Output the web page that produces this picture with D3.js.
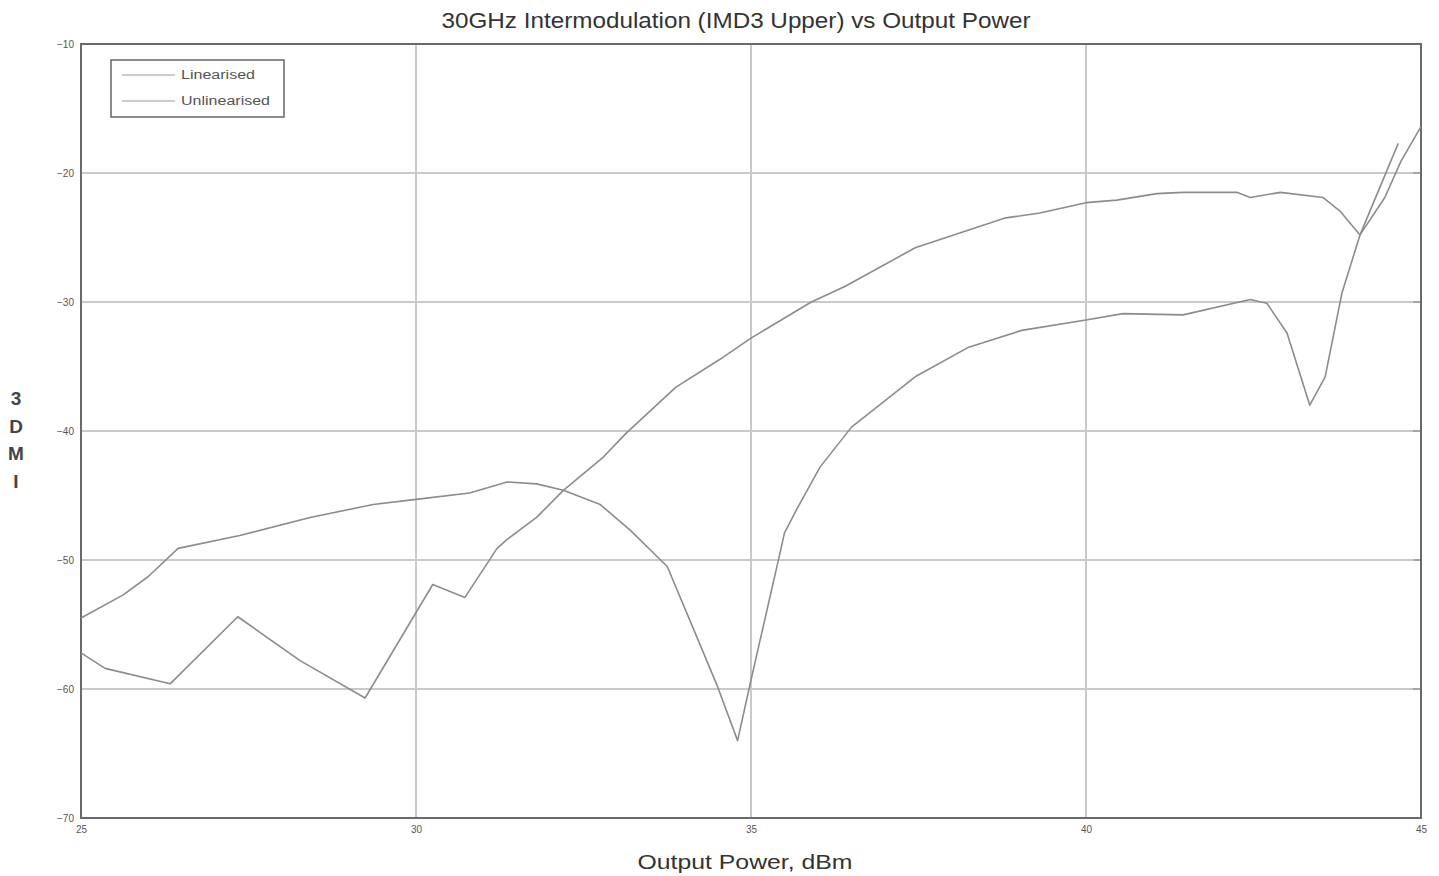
<!DOCTYPE html>
<html>
<head>
<meta charset="utf-8">
<script src="https://cdn.jsdelivr.net/npm/d3@7"></script>
<style>
  body { margin: 0; background: #fff; }
  svg { font-family: "Liberation Sans", Arial, sans-serif; }
</style>
</head>
<body>
<svg id="chart" width="1439" height="876"></svg>
<script>
// Data: output power (dBm) vs IMD3 (dBc)
const linPower = [25, 25.63, 26.0, 26.45, 27.37, 28.42, 29.36, 30.0, 30.8, 31.36, 31.8, 32.2, 32.75, 33.2, 33.75, 34.13, 34.5, 34.8, 35.0, 35.4, 35.5, 35.7, 36.03, 36.5, 37.45, 38.25, 39.04, 40.0, 40.55, 41.45, 42.45, 42.7, 43.0, 43.34, 43.57, 43.82, 44.09, 44.66];
const linImd = [-54.5, -52.7, -51.3, -49.1, -48.1, -46.7, -45.7, -45.3, -44.8, -43.95, -44.1, -44.6, -45.7, -47.7, -50.5, -55.2, -59.8, -64.0, -59.3, -50.2, -47.9, -45.9, -42.8, -39.7, -35.8, -33.5, -32.2, -31.4, -30.9, -31.0, -29.8, -30.1, -32.4, -38.0, -35.8, -29.3, -24.8, -17.7];

const unlinPower = [25, 25.36, 26.33, 27.34, 28.27, 29.24, 30.25, 30.73, 31.21, 31.36, 31.8, 32.2, 32.8, 33.13, 33.88, 34.52, 35.0, 35.9, 36.4, 37.45, 38.78, 39.31, 40.0, 40.46, 41.06, 41.45, 42.25, 42.45, 42.9, 43.54, 43.8, 44.09, 44.46, 44.7, 45.0];
const unlinImd = [-57.2, -58.4, -59.6, -54.4, -57.8, -60.7, -51.9, -52.9, -49.1, -48.4, -46.7, -44.6, -42.0, -40.2, -36.6, -34.5, -32.8, -30.0, -28.8, -25.8, -23.5, -23.1, -22.3, -22.1, -21.6, -21.5, -21.5, -21.9, -21.5, -21.9, -23.0, -24.8, -21.9, -19.1, -16.4];

const xTicks = [25, 30, 35, 40, 45];
const yTicks = [-10, -20, -30, -40, -50, -60, -70];
const seriesNames = ["Linearised", "Unlinearised"];

const svg = d3.select("#chart");
const margin = { top: 44, right: 18, bottom: 58, left: 81 };
const width = 1439 - margin.left - margin.right;
const height = 876 - margin.top - margin.bottom;

const x = d3.scaleLinear().domain([25, 45]).range([0, width]);
const y = d3.scaleLinear().domain([-70, -10]).range([height, 0]);

const g = svg.append("g").attr("transform", `translate(${margin.left},${margin.top})`);

// grid
g.append("g").selectAll("line")
  .data(xTicks.slice(1, -1)).enter().append("line")
  .attr("x1", d => x(d)).attr("x2", d => x(d))
  .attr("y1", 0).attr("y2", height)
  .attr("stroke", "#c9c9c9").attr("stroke-width", 2);
g.append("g").selectAll("line")
  .data(yTicks.slice(1, -1)).enter().append("line")
  .attr("x1", 0).attr("x2", width)
  .attr("y1", d => y(d)).attr("y2", d => y(d))
  .attr("stroke", "#c9c9c9").attr("stroke-width", 2);

// axes
const xAxis = d3.axisBottom(x).tickValues(xTicks).tickSize(0).tickPadding(8);
const yAxis = d3.axisLeft(y).tickValues(yTicks).tickSize(0).tickPadding(7);
g.append("g").attr("transform", `translate(0,${height})`).call(xAxis)
  .call(s => s.select(".domain").remove())
  .selectAll("text").attr("font-size", 10).attr("fill", "#555");
g.append("g").call(yAxis)
  .call(s => s.select(".domain").remove())
  .selectAll("text").attr("font-size", 10).attr("fill", "#555");

// small ticks on right edge
g.append("g").selectAll("line")
  .data(yTicks).enter().append("line")
  .attr("x1", width - 8).attr("x2", width)
  .attr("y1", d => y(d)).attr("y2", d => y(d))
  .attr("stroke", "#999").attr("stroke-width", 1.5);

// frame
g.append("rect").attr("width", width).attr("height", height)
  .attr("fill", "none").attr("stroke", "#6a6a6a").attr("stroke-width", 2);

// lines
const line = d3.line().x(d => x(d[0])).y(d => y(d[1]));
const linData = d3.zip(linPower, linImd);
const unlinData = d3.zip(unlinPower, unlinImd);
[linData, unlinData].forEach(data => {
  g.append("path").datum(data)
    .attr("fill", "none")
    .attr("stroke", "#8c8c8c")
    .attr("stroke-width", 1.6)
    .attr("stroke-linejoin", "round")
    .attr("d", line);
});

// legend
const legendWidths = [74, 89];
const legend = g.append("g").attr("transform", "translate(30,16)");
legend.append("rect").attr("width", 173).attr("height", 57)
  .attr("fill", "#fff").attr("stroke", "#666").attr("stroke-width", 1.5);
seriesNames.forEach((name, i) => {
  const ly = 15 + i * 26;
  legend.append("line").attr("x1", 11).attr("x2", 64).attr("y1", ly).attr("y2", ly)
    .attr("stroke", "#bbb").attr("stroke-width", 1.3);
  legend.append("text").attr("x", 70).attr("y", ly + 4)
    .attr("font-size", 12).attr("fill", "#555")
    .attr("textLength", legendWidths[i]).attr("lengthAdjust", "spacingAndGlyphs")
    .text(name);
});

// title
svg.append("text")
  .attr("x", 736).attr("y", 28)
  .attr("text-anchor", "middle")
  .attr("font-size", 22).attr("fill", "#333")
  .attr("textLength", 589).attr("lengthAdjust", "spacingAndGlyphs")
  .text("30GHz Intermodulation (IMD3 Upper) vs Output Power");

// x label
svg.append("text")
  .attr("x", 745).attr("y", 869)
  .attr("text-anchor", "middle")
  .attr("font-size", 21).attr("fill", "#333")
  .attr("textLength", 215).attr("lengthAdjust", "spacingAndGlyphs")
  .text("Output Power, dBm");

// y label, stacked characters
const yLab = svg.append("text")
  .attr("text-anchor", "middle")
  .attr("font-size", 19).attr("font-weight", "bold").attr("fill", "#444");
["3", "D", "M", "I"].forEach((c, i) => {
  yLab.append("tspan").attr("x", 16).attr("y", 405 + i * 27.5).text(c);
});
</script>
</body>
</html>
